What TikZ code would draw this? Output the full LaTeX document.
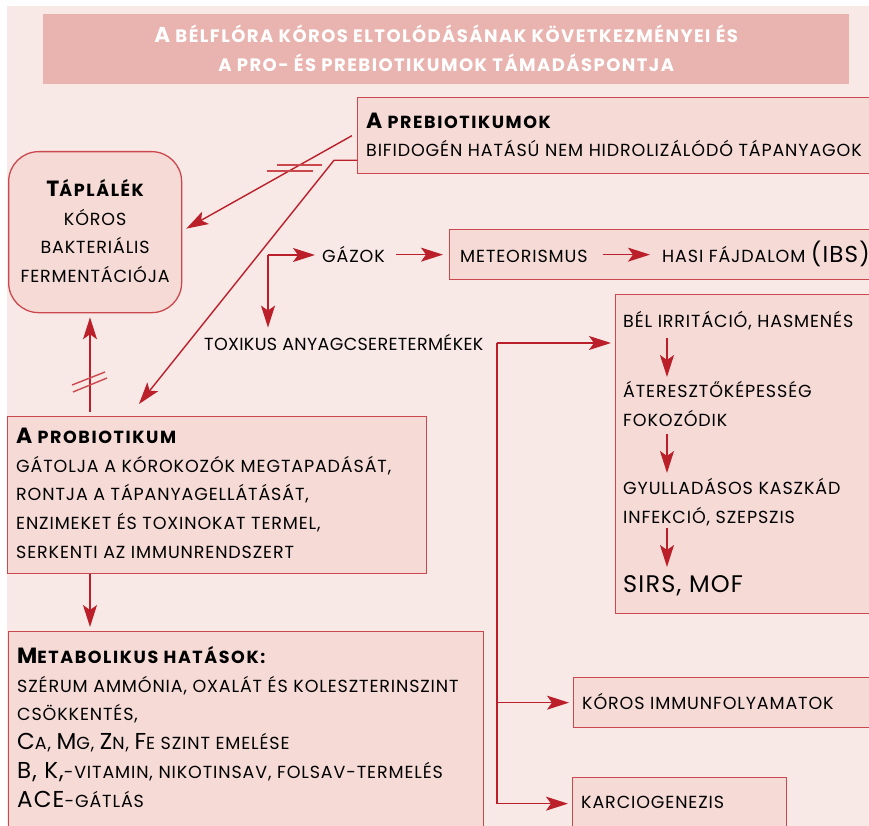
\documentclass[tikz,border=0pt]{standalone}
\usepackage{fontspec}
\setmainfont{Poppins}[LetterSpace=5]
\usepackage{tikz}
\usetikzlibrary{
  arrows.meta,
  positioning,
  calc
}
\usepackage{xcolor}
\definecolor{cbg}{RGB}{248,233,230}
\definecolor{ctitle}{RGB}{233,180,175}
\definecolor{lbox}{RGB}{245,218,214}
\definecolor{cframe}{RGB}{203,72,78}
\definecolor{cred}{RGB}{187,32,42}
\newcommand\body{\fontsize{17.5}{28.8}\selectfont}
\newcommand\bigc[1]{{\fontsize{23}{28.8}\selectfont #1}}
\newcommand\hd[2]{{\bfseries{\fontsize{22}{28.8}\selectfont #1}{\fontsize{17.5}{28.8}\selectfont\addfontfeature{LetterSpace=9}#2}}}
\newcommand\fl{\rule{0pt}{17pt}}
\tikzset{
  panel/.style={
    rectangle, fill=lbox, draw=cframe, line width=1.3pt,
    inner sep=0pt, anchor=north west
  },
  panelR/.style={
    panel, rounded corners=30pt
  },
  banner/.style={
    rectangle, fill=ctitle, inner sep=0pt, anchor=north west
  },
  txt/.style={
    inner sep=0pt, align=left, font=\body, text=black
  },
  arr/.style={-{Stealth[length=22pt,width=14pt,inset=5pt]}, line width=1.4pt, draw=cred},
  ln/.style={line width=1.4pt, draw=cred},
  brk/.style={line width=1.4pt, draw=cframe}
}
\begin{document}
\begin{tikzpicture}[x=1pt,y=-1pt]

    \useasboundingbox (0,0) rectangle (869,826);
    \clip (0,0) rectangle (869,826);
    \fill[cbg] (7,6) rectangle (869,826);

    %% ---- Title -------------------------------------------------------
    \node[banner, minimum width=806pt, minimum height=70pt] (head) at (43,14) {};
    \node[font=\fontsize{18}{29}\selectfont\bfseries\addfontfeature{LetterSpace=8},
          text=white, align=center, inner sep=0pt]
      (headT) at ($(head.center)+(0,-1)$)
      {{\fontsize{21.5}{29}\selectfont A} BÉLFLÓRA KÓROS ELTOLÓDÁSÁNAK KÖVETKEZMÉNYEI ÉS\\
       A PRO- ÉS PREBIOTIKUMOK TÁMADÁSPONTJA};

    %% ---- Boxes -------------------------------------------------------
    \node[panel, minimum width=530pt, minimum height=76pt] (prebio) at (357,97) {};
    \node[txt, anchor=north west] (prebioT) at ($(prebio.north west)+(9,14)$)
      {\fl\hd{A}{\ PREBIOTIKUMOK}\\BIFIDOGÉN HATÁSÚ NEM HIDROLIZÁLÓDÓ TÁPANYAGOK};

    \node[panelR, minimum width=173pt, minimum height=161pt] (tap) at (8,151) {};
    \node[txt, align=center, anchor=north] (tapT) at ($(tap.north)+(0,28)$)
      {\fl\hd{T}{ÁPLÁLÉK}\\KÓROS\\BAKTERIÁLIS\\FERMENTÁCIÓJA};

    \node[panel, minimum width=419pt, minimum height=157pt] (probio) at (7,416) {};
    \node[txt, anchor=north west] (probioT) at ($(probio.north west)+(9,10)$)
      {\fl\hd{A}{\ PROBIOTIKUM}\\
       GÁTOLJA A KÓROKOZÓK MEGTAPADÁSÁT,\\
       RONTJA A TÁPANYAGELLÁTÁSÁT,\\
       ENZIMEKET ÉS TOXINOKAT TERMEL,\\
       SERKENTI AZ IMMUNRENDSZERT};

    \node[panel, minimum width=475pt, minimum height=200pt] (metab) at (8,631) {};
    \node[txt, anchor=north west] (metabT) at ($(metab.north west)+(9,15)$)
      {\fl\hd{M}{ETABOLIKUS\ HATÁSOK:}\\
       SZÉRUM AMMÓNIA, OXALÁT ÉS KOLESZTERINSZINT\\
       CSÖKKENTÉS,\\
       \bigc{C}A, \bigc{M}G, \bigc{Z}N, \bigc{F}E SZINT EMELÉSE\\
       \bigc{B, K,}-VITAMIN, NIKOTINSAV, FOLSAV-TERMELÉS\\
       \bigc{ACE}-GÁTLÁS};

    \node[panel, minimum width=440pt, minimum height=50pt] (meteo) at (449,229) {};
    \node[txt, anchor=base west] (met1) at ($(meteo.north west)+(11,33)$) {METEORISMUS};
    \node[txt, anchor=base west] (met2) at ($(meteo.north west)+(213,33)$)
      {HASI FÁJDALOM \bigc{(IBS)}};

    \node[txt, anchor=base west] (gaz) at (322,262) {GÁZOK};
    \node[txt, anchor=base west, font=\body\addfontfeature{LetterSpace=2}] (tox)
      at (204,350) {TOXIKUS ANYAGCSERETERMÉKEK};

    \node[panel, minimum width=270pt, minimum height=319pt] (chain) at (615,294) {};
    \node[txt, anchor=base west] (ch1) at ($(chain.north west)+(8,33)$)
      {BÉL IRRITÁCIÓ, HASMENÉS};
    \node[txt, anchor=north west] (ch2) at ($(chain.north west)+(8,86)$)
      {\fl ÁTERESZTŐKÉPESSÉG\\FOKOZÓDIK};
    \node[txt, anchor=north west] (ch3) at ($(chain.north west)+(8,183)$)
      {\fl GYULLADÁSOS KASZKÁD\\INFEKCIÓ, SZEPSZIS};
    \node[txt, anchor=base west, font=\fontsize{24}{28.8}\selectfont] (ch4)
      at ($(chain.north west)+(8,298)$) {SIRS, MOF};

    \node[panel, minimum width=310pt, minimum height=50pt] (imm) at (573,677) {};
    \node[txt, anchor=base west] (immT) at ($(imm.north west)+(9,32)$)
      {KÓROS IMMUNFOLYAMATOK};
    \node[panel, minimum width=214pt, minimum height=52pt] (kar) at (572,777) {};
    \node[txt, anchor=base west] (karT) at ($(kar.north west)+(9,31)$) {KARCIOGENEZIS};

    %% ---- Connectors --------------------------------------------------
    \coordinate (pb1) at ($(prebio.west)+(-5,0)$);
    \coordinate (pb2) at ($(prebio.south west)+(-23,-14)$);
    \draw[arr] (pb1) -- ($(tap.east)+(4,-3.5)$);
    \draw[arr] ($(prebio.south west)+(0,-14)$) -- (pb2)
      -- ($(probio.north west)+(132,-12)$);
    \draw[brk] (277,165) -- (322,165);
    \draw[brk] (267,171) -- (313,171);

    \draw[arr] ($(probio.north west)+(83,-4)$) -- ($(tap.south west)+(82,4)$);
    \draw[brk] (72,385) -- (105,372);
    \draw[brk] (73,392) -- (107,378);
    \draw[arr] ($(probio.south west)+(83,0)$) -- ($(metab.north west)+(82,-4)$);

    \coordinate (gz0) at (268,255);
    \draw[arr, shorten >=7pt] (gz0) -- (gz0 -| gaz.west);
    \draw[arr, shorten >=6pt] (gz0) -- (gz0 |- tox.north);
    \draw[arr, shorten <=11pt, shorten >=6pt] (gaz.east |- meteo.west) -- (meteo.west);
    \draw[arr, shorten <=15pt, shorten >=12pt] (met1.east |- meteo.west) -- (met2.west |- meteo.west);

    \coordinate (tx0) at (497,343);
    \draw[arr, shorten >=4pt] (tx0) -- (tx0 -| chain.west);
    \draw[ln] (tx0) -- (tx0 |- kar.west);
    \draw[arr, shorten >=4pt] (tx0 |- imm.west) -- (imm.west);
    \draw[arr, shorten >=4pt] (tx0 |- kar.west) -- (kar.west);

    \draw[arr] ($(ch1.base west)+(44,11)$) -- ($(ch2.north west)+(44,-3)$);
    \draw[arr] ($(ch2.north west)+(44,54)$) -- ($(ch3.north west)+(44,-4)$);
    \draw[arr] ($(ch3.north west)+(44,51)$) -- ($(ch4.base west)+(44,-25)$);

  \end{tikzpicture}
\end{document}
